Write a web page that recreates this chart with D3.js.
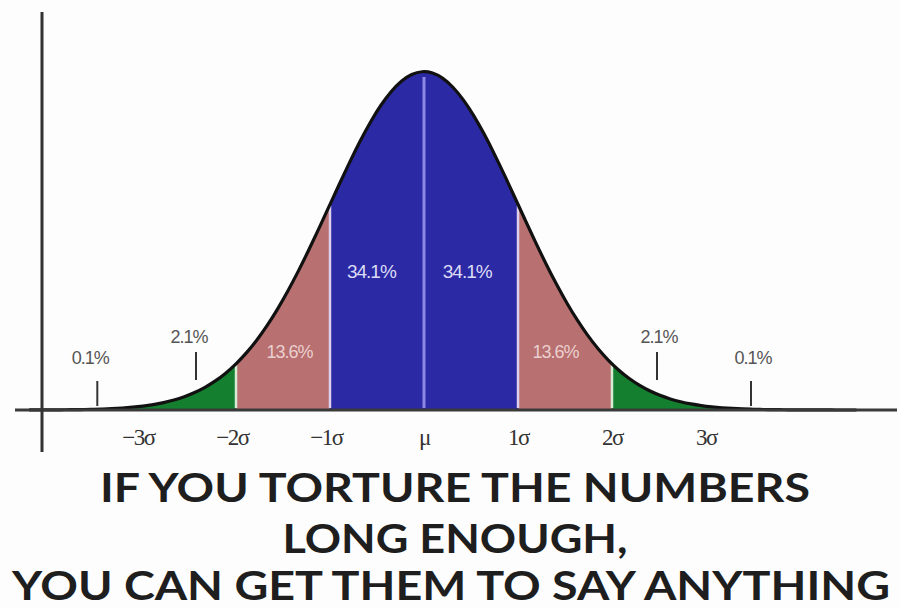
<!DOCTYPE html>
<html>
<head>
<meta charset="utf-8">
<script src="https://cdn.jsdelivr.net/npm/d3@7"></script>
<style>
  body { margin: 0; background: #fdfdfd; }
  svg { display: block; }
</style>
</head>
<body>
<div id="chart"></div>
<script>
// sigma tick labels
const tickValues = [-3, -2, -1, 0, 1, 2, 3];
const tickLabels = ["\u22123\u03c3", "\u22122\u03c3", "\u22121\u03c3", "\u03bc", "1\u03c3", "2\u03c3", "3\u03c3"];

// shaded bands (in sigma units)
const bandFrom = [-4, -2, -1, 0, 1, 2];
const bandTo = [-2, -1, 0, 1, 2, 4];
const bandKind = ["tail", "mid", "core", "core", "mid", "tail"];

// percentage labels, x in sigma units
const pctLabels = ["0.1%", "2.1%", "13.6%", "34.1%", "34.1%", "13.6%", "2.1%", "0.1%"];
const pctAt = [-3.55, -2.5, -1.43, -0.56, 0.46, 1.4, 2.5, 3.5];
const pctTicked = [true, true, false, false, false, false, true, true];

const titleLines = ["IF YOU TORTURE THE NUMBERS", "LONG ENOUGH,", "YOU CAN GET THEM TO SAY ANYTHING"];

const W = 900, H = 608;
const colors = { tail: "#14802f", mid: "#b87070", core: "#2b29a4" };

const svg = d3.select("#chart").append("svg")
    .attr("width", W)
    .attr("height", H);

svg.append("rect").attr("width", W).attr("height", H).attr("fill", "#fdfdfd");

// scales: mean at 424px, sigma ~94px
const x = d3.scaleLinear().domain([-4, 4]).range([424 - 4 * 94, 424 + 4 * 94]);
const pdf = z => Math.exp(-z * z / 2);
const y = d3.scaleLinear().domain([0, 1]).range([410, 71]);

const area = d3.area()
    .x(d => x(d))
    .y0(y(0))
    .y1(d => y(pdf(d)))
    .curve(d3.curveBasis);

const samples = (a, b) => d3.range(0, 81).map(i => a + (b - a) * i / 80);

// bands
bandFrom.forEach((a, i) => {
    svg.append("path")
        .datum(samples(a, bandTo[i]))
        .attr("fill", colors[bandKind[i]])
        .attr("d", area);
});

// separators
const sepColor = { "-2": "#d8ecd4", "-1": "#ddd0ee", "0": "#8c88e6", "1": "#ddd0ee", "2": "#d8ecd4" };
[-2, -1, 0, 1, 2].forEach(v => {
    svg.append("line")
        .attr("x1", x(v)).attr("x2", x(v))
        .attr("y1", y(0) - 2).attr("y2", y(pdf(v)) + (v === 0 ? 6 : 1))
        .attr("stroke", sepColor[v])
        .attr("stroke-width", v === 0 ? 3 : 2.5);
});

// curve outline
const line = d3.line()
    .x(d => x(d))
    .y(d => y(pdf(d)))
    .curve(d3.curveBasis);

svg.append("path")
    .datum(samples(-4.2, 4.6))
    .attr("fill", "none")
    .attr("stroke", "#111")
    .attr("stroke-width", 3.2)
    .attr("d", line);

// axes
svg.append("line")
    .attr("x1", 15).attr("x2", 897)
    .attr("y1", 410).attr("y2", 410)
    .attr("stroke", "#3a3a3a").attr("stroke-width", 3);

svg.append("line")
    .attr("x1", 42).attr("x2", 42)
    .attr("y1", 12).attr("y2", 452)
    .attr("stroke", "#333").attr("stroke-width", 3);

// tick labels
const axis = d3.axisBottom(x)
    .tickValues(tickValues)
    .tickFormat((d, i) => tickLabels[i])
    .tickSize(0)
    .tickPadding(0);

const gAxis = svg.append("g")
    .attr("transform", "translate(0,429)")
    .call(axis);
gAxis.select(".domain").remove();
gAxis.selectAll("text")
    .attr("font-family", "Liberation Serif, serif")
    .attr("font-size", 23)
    .attr("fill", "#333")
    .attr("letter-spacing", -1.5)
    .attr("dx", (d, i) => i < 3 ? -4 : 0);

// percentage labels
pctLabels.forEach((t, i) => {
    const inside = !pctTicked[i];
    const core = Math.abs(pctAt[i]) < 1;
    let ly;
    if (core) ly = 278;
    else if (inside) ly = 358;
    else if (Math.abs(pctAt[i]) < 3) ly = 343;
    else ly = 364;

    svg.append("text")
        .attr("x", x(pctAt[i]))
        .attr("y", ly)
        .attr("text-anchor", "middle")
        .attr("font-family", "Liberation Sans Narrow, Liberation Sans, sans-serif")
        .attr("font-size", core ? 19 : 18)
        .attr("letter-spacing", -1)
        .attr("fill", inside ? (core ? "#dcdcf6" : "#ebcfcf") : "#555")
        .text(t);

    if (pctTicked[i]) {
        const top = Math.abs(pctAt[i]) < 3 ? 352 : 381;
        const bot = Math.abs(pctAt[i]) < 3 ? 380 : 406;
        svg.append("line")
            .attr("x1", x(pctAt[i]) + (pctAt[i] < 0 ? 7 : -2))
            .attr("x2", x(pctAt[i]) + (pctAt[i] < 0 ? 7 : -2))
            .attr("y1", top).attr("y2", bot)
            .attr("stroke", "#333").attr("stroke-width", 2);
    }
});

// title text
const titleX = [455, 455, 451];
const titleY = [502, 553, 600];
const titleW = [710, 345, 878];
titleLines.forEach((t, i) => {
    svg.append("text")
        .attr("x", titleX[i])
        .attr("y", titleY[i])
        .attr("text-anchor", "middle")
        .attr("font-family", "Lato, sans-serif")
        .attr("font-weight", 700)
        .attr("font-size", 40)
        .attr("fill", "#1e1e1e")
        .attr("textLength", titleW[i])
        .attr("lengthAdjust", "spacingAndGlyphs")
        .text(t);
});
</script>
</body>
</html>
